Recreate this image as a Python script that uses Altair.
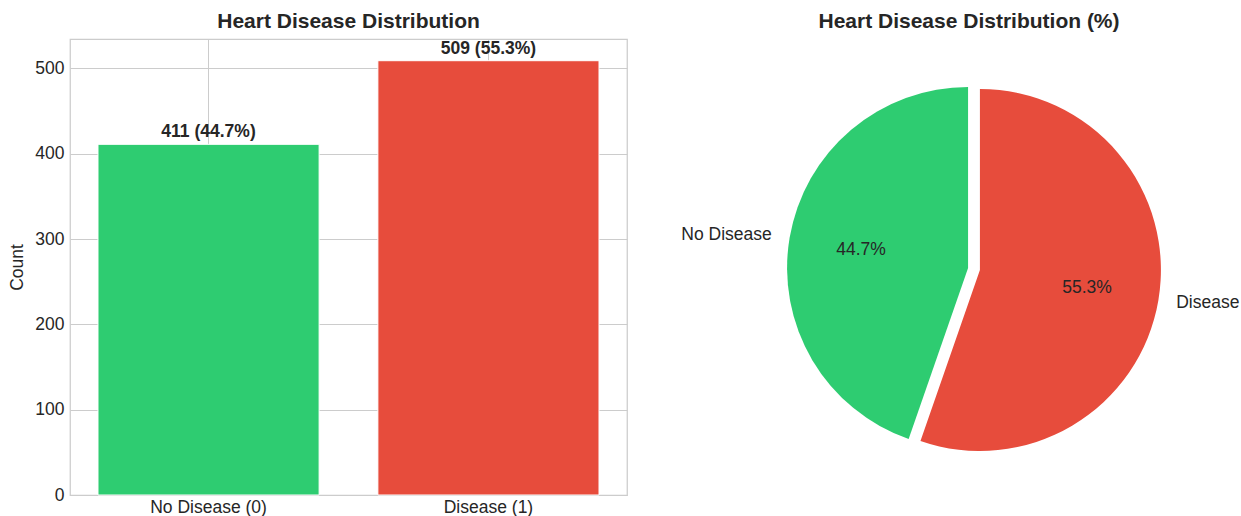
import altair as alt
import pandas as pd

# Class counts for the heart-disease target column
classes = ["No Disease", "Disease"]
bar_ticks = ["No Disease (0)", "Disease (1)"]
counts = [411, 509]
colors = ["#2ecc71", "#e74c3c"]
y_ticks = [0, 100, 200, 300, 400, 500]

df = pd.DataFrame({"cls": classes, "tick": bar_ticks, "count": counts})

FONT = "Liberation Sans"
TXT = "#262626"
GRID = "#cccccc"
FS = 17.5

# ---- left: bar chart of counts ----
ymax = max(counts) * 1.05

bar_base = alt.Chart(df).transform_joinaggregate(
    total="sum(count)"
).transform_calculate(
    label="datum.count + ' (' + format(datum.count / datum.total * 100, '.1f') + '%)'"
)

x_enc = alt.X(
    "tick:N", sort=bar_ticks, title=None,
    scale=alt.Scale(paddingInner=0.21, paddingOuter=0.1),
    axis=alt.Axis(labelAngle=0, grid=True, bandPosition=0.5, ticks=False,
                  domain=False, labelPadding=3, gridColor=GRID),
)
y_enc = alt.Y(
    "count:Q", title="Count",
    scale=alt.Scale(domain=[0, ymax], nice=False),
    axis=alt.Axis(values=y_ticks, ticks=False, domain=False, labelPadding=6,
                  titlePadding=8, gridColor=GRID),
)
color_enc = alt.Color("cls:N", scale=alt.Scale(domain=classes, range=colors), legend=None)

bars = bar_base.mark_bar(stroke="white", strokeWidth=1).encode(
    x=x_enc, y=y_enc, color=color_enc
)
bar_text = bar_base.mark_text(
    baseline="bottom", dy=-3, fontWeight="bold", fontSize=FS, color=TXT, font=FONT
).encode(x=alt.X("tick:N", sort=bar_ticks), y="count:Q", text="label:N")

left = alt.layer(bars, bar_text).properties(
    width=557, height=456,
    title=alt.TitleParams("Heart Disease Distribution", fontSize=21, fontWeight="bold",
                          font=FONT, color=TXT, offset=7),
    view=alt.ViewBackground(stroke=GRID, strokeWidth=1.25),
)

# ---- right: exploded pie chart of shares ----
CX, CY, R, EXPLODE = 324, 230, 181, 6

pie_base = alt.Chart(df).transform_joinaggregate(
    total="sum(count)"
).transform_window(
    cum="sum(count)", sort=[alt.SortField("cls", order="ascending")], frame=[None, 0]
).transform_calculate(
    t1="2 * PI * datum.cum / datum.total"
).transform_calculate(
    t0="datum.t1 - 2 * PI * datum.count / datum.total"
).transform_calculate(
    mid="(datum.t0 + datum.t1) / 2"
).transform_calculate(
    ox=f"{CX} + {EXPLODE} * sin(datum.mid)",
    oy=f"{CY} - {EXPLODE} * cos(datum.mid)",
    pct="format(datum.count / datum.total * 100, '.1f') + '%'",
).transform_calculate(
    lx=f"datum.ox + {1.1 * R} * sin(datum.mid)",
    ly=f"datum.oy - {1.1 * R} * cos(datum.mid)",
    px=f"datum.ox + {0.6 * R} * sin(datum.mid)",
    py=f"datum.oy - {0.6 * R} * cos(datum.mid)",
)

wedges = pie_base.mark_arc(radius=R).encode(
    theta=alt.Theta("t0:Q", scale=None),
    theta2="t1:Q",
    x=alt.X("ox:Q", scale=None, axis=None),
    y=alt.Y("oy:Q", scale=None, axis=None),
    color=color_enc,
)

label_left = pie_base.transform_filter("datum.mid > PI").mark_text(
    align="right", baseline="middle", fontSize=FS, font=FONT, color=TXT
).encode(x=alt.X("lx:Q", scale=None), y=alt.Y("ly:Q", scale=None), text="cls:N")

label_right = pie_base.transform_filter("datum.mid <= PI").mark_text(
    align="left", baseline="middle", fontSize=FS, font=FONT, color=TXT
).encode(x=alt.X("lx:Q", scale=None), y=alt.Y("ly:Q", scale=None), text="cls:N")

pct_text = pie_base.mark_text(
    align="center", baseline="middle", fontSize=FS, font=FONT, color=TXT
).encode(x=alt.X("px:Q", scale=None), y=alt.Y("py:Q", scale=None), text="pct:N")

right = alt.layer(wedges, label_left, label_right, pct_text).properties(
    width=590, height=456,
    title=alt.TitleParams("Heart Disease Distribution (%)", fontSize=21, fontWeight="bold",
                          font=FONT, color=TXT, offset=7, dx=24),
    view=alt.ViewBackground(strokeOpacity=0),
)

chart = alt.hconcat(left, right, spacing=22).properties(
    padding={"left": 8, "top": 10, "right": 0, "bottom": 0},
    background="white",
).configure_axis(
    labelFont=FONT, titleFont=FONT, labelFontSize=FS, titleFontSize=FS,
    labelColor=TXT, titleColor=TXT, titleFontWeight="normal", gridWidth=1,
).configure_concat(spacing=22)

chart.save("out.html", embed_options={"renderer": "svg", "actions": False})
